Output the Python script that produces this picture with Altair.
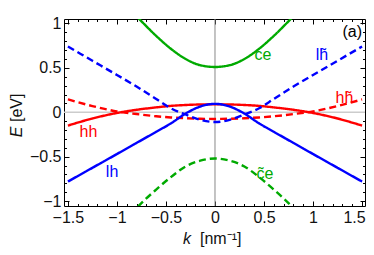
import altair as alt
import pandas as pd

# ---- data ----
k_v = [-1.5, -1.25, -1.0, -0.8, -0.6, -0.45, -0.3, -0.15, 0.0, 0.15, 0.3, 0.45, 0.6, 0.8, 1.0, 1.25, 1.5]
hh = [-0.15, -0.07, -0.008, 0.028, 0.055, 0.072, 0.082, 0.088, 0.09, 0.088, 0.082, 0.072, 0.055, 0.028, -0.008, -0.07, -0.15]
hh_t = [0.145, 0.07, 0.01, -0.02, -0.045, -0.058, -0.067, -0.073, -0.075, -0.073, -0.067, -0.058, -0.045, -0.02, 0.01, 0.07, 0.145]
lh = [-0.78, -0.625, -0.47, -0.345, -0.22, -0.125, -0.015, 0.065, 0.095, 0.065, -0.015, -0.125, -0.22, -0.345, -0.47, -0.625, -0.78]
lh_t = [0.74, 0.58, 0.42, 0.29, 0.15, 0.045, -0.025, -0.085, -0.11, -0.085, -0.025, 0.045, 0.15, 0.29, 0.42, 0.58, 0.74]
k_c = [-1.0, -0.8, -0.6, -0.45, -0.3, -0.15, 0.0, 0.15, 0.3, 0.45, 0.6, 0.8, 1.0]
ce = [1.3, 1.08, 0.86, 0.715, 0.6, 0.53, 0.51, 0.53, 0.6, 0.715, 0.86, 1.08, 1.3]
ce_t = [-1.35, -1.08, -0.87, -0.73, -0.61, -0.545, -0.52, -0.545, -0.61, -0.73, -0.87, -1.08, -1.35]

x_major = [-1.5, -1.0, -0.5, 0.0, 0.5, 1.0, 1.5]
x_lab_main = [-1.5, -1.0, -0.5, 0.0, 0.5, 1.0]
x_lab_edge = [1.5]
x_minor = [round(-1.5 + 0.1 * i, 1) for i in range(31)]
y_major = [-1.0, -0.5, 0.0, 0.5, 1.0]
y_minor = [round(-1.0 + 0.1 * i, 1) for i in range(21)]

lab_text = ["ce", "c\u0303e", "lh\u0303", "hh\u0303", "hh", "lh", "(a)"]
lab_k = [0.49, 0.51, 1.09, 1.32, -1.29, -1.05, 1.40]
lab_E = [0.64, -0.69, 0.65, 0.165, -0.22, -0.67, 0.90]
lab_col = ["#00aa00", "#00aa00", "#0000ff", "#ff0000", "#ff0000", "#0000ff", "#000000"]

bands = ["hh", "hh~", "lh", "lh~", "ce", "ce~"]
band_colors = ["#ff0000", "#ff0000", "#0000ff", "#0000ff", "#00aa00", "#00aa00"]

rows = []
for name, ks, vals, style in [("hh", k_v, hh, "solid"), ("hh~", k_v, hh_t, "dashed"),
                              ("lh", k_v, lh, "solid"), ("lh~", k_v, lh_t, "dashed"),
                              ("ce", k_c, ce, "solid"), ("ce~", k_c, ce_t, "dashed")]:
    for kk, ee in zip(ks, vals):
        rows.append({"k": kk, "E": ee, "band": name, "style": style})
df = pd.DataFrame(rows)
labels = pd.DataFrame({"k": lab_k, "E": lab_E, "t": lab_text, "c": lab_col})
one = pd.DataFrame({"a": [0]})

W, H = 301, 187
FONT = "Liberation Sans"
FS = 16
xs = alt.Scale(domain=[-1.54, 1.53], nice=False, zero=False)
ys = alt.Scale(domain=[-1.055, 1.05], nice=False, zero=False)


def ax(**kw):
    base = dict(domain=False, grid=False, title=None, tickColor="#000", tickWidth=1)
    base.update(kw)
    return alt.Axis(**base)


lab_style = dict(ticks=False, labelFont=FONT, labelFontSize=FS, labelColor="#111", labelPadding=3)

lines = alt.Chart(df).mark_line(clip=True, strokeWidth=2.4, interpolate="monotone").encode(
    x=alt.X("k:Q", scale=xs, axis=ax(orient="bottom", values=x_lab_main, format="~g", **lab_style)),
    y=alt.Y("E:Q", scale=ys, axis=ax(orient="left", values=y_major, format="~g", **lab_style)),
    color=alt.Color("band:N", scale=alt.Scale(domain=bands, range=band_colors), legend=None),
    strokeDash=alt.StrokeDash("style:N", scale=alt.Scale(domain=["solid", "dashed"], range=[[1, 0], [7, 4]]),
                              legend=None),
    detail="band:N",
)

edge_lab = alt.Chart(df).mark_point(opacity=0).encode(
    x=alt.X("k:Q", scale=xs, axis=ax(orient="bottom", values=x_lab_edge, labelOffset=-8,
                                     labelExpr="format(datum.value, '.1f')", **lab_style)),
    y=alt.Y("E:Q", scale=ys, axis=None),
)


def tick_layer(xo, yo, xvals, yvals, size):
    return alt.Chart(df).mark_point(opacity=0).encode(
        x=alt.X("k:Q", scale=xs, axis=ax(orient=xo, offset=-H, values=xvals, tickSize=size, labels=False)),
        y=alt.Y("E:Q", scale=ys, axis=ax(orient=yo, offset=-W, values=yvals, tickSize=size, labels=False)),
    )


t1 = tick_layer("top", "right", x_major, y_major, 5)
t2 = tick_layer("top", "right", x_minor, y_minor, 2.5)
t3 = tick_layer("bottom", "left", x_major, y_major, 5)
t4 = tick_layer("bottom", "left", x_minor, y_minor, 2.5)

zero_h = alt.Chart(pd.DataFrame({"E": [0.0]})).mark_rule(color="#cccccc", strokeWidth=1.5).encode(
    y=alt.Y("E:Q", scale=ys, axis=None))
zero_v = alt.Chart(pd.DataFrame({"k": [0.0]})).mark_rule(color="#888888", strokeWidth=1).encode(
    x=alt.X("k:Q", scale=xs, axis=None))

text = alt.Chart(labels).mark_text(font=FONT, fontSize=FS, baseline="middle", align="center").encode(
    x=alt.X("k:Q", scale=xs, axis=None),
    y=alt.Y("E:Q", scale=ys, axis=None),
    text="t:N",
    color=alt.Color("c:N", scale=None),
)

e_it = alt.Chart(one).mark_text(text="E", font=FONT, fontSize=FS, fontStyle="italic", angle=270,
                                align="center", baseline="alphabetic", color="#111").encode(
    x=alt.value(-42), y=alt.value(113))
e_un = alt.Chart(one).mark_text(text="[eV]", font=FONT, fontSize=FS, angle=270,
                                align="left", baseline="alphabetic", color="#111").encode(
    x=alt.value(-42), y=alt.value(103))
k_it = alt.Chart(one).mark_text(text="k", font=FONT, fontSize=FS, fontStyle="italic",
                                align="center", baseline="alphabetic", color="#111").encode(
    x=alt.value(123), y=alt.value(225))
k_un = alt.Chart(one).mark_text(text="[nm\u207b\u00b9]", font=FONT, fontSize=FS,
                                align="left", baseline="alphabetic", color="#111").encode(
    x=alt.value(136), y=alt.value(225))

chart = alt.layer(zero_h, zero_v, lines, edge_lab, t1, t2, t3, t4, text, e_it, e_un, k_it, k_un).resolve_axis(
    x="independent", y="independent"
).properties(
    width=W, height=H,
    autosize=alt.AutoSizeParams(type="none"),
    padding={"left": 56, "top": 11, "right": 1, "bottom": 41},
).configure_view(stroke="#000", strokeWidth=1)

chart.save("out.html", embed_options={"renderer": "svg", "actions": False})
